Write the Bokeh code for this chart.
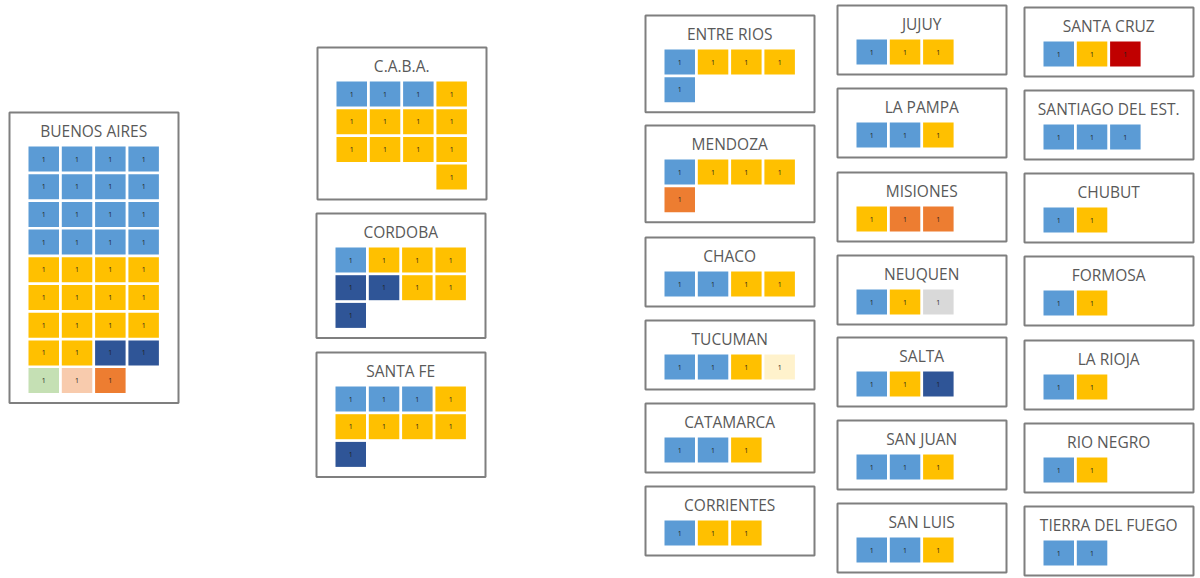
from bokeh.plotting import figure
from bokeh.models import ColumnDataSource, Range1d
from bokeh.embed import file_html
from bokeh.resources import INLINE
from bokeh.core.properties import value

# ---------------- DATA ----------------
provinces = ["BUENOS AIRES", "C.A.B.A.", "CORDOBA", "SANTA FE",
             "ENTRE RIOS", "MENDOZA", "CHACO", "TUCUMAN", "CATAMARCA", "CORRIENTES",
             "JUJUY", "LA PAMPA", "MISIONES", "NEUQUEN", "SALTA", "SAN JUAN", "SAN LUIS",
             "SANTA CRUZ", "SANTIAGO DEL EST.", "CHUBUT", "FORMOSA", "LA RIOJA",
             "RIO NEGRO", "TIERRA DEL FUEGO"]

# party code -> colour
party_codes = ["P1", "P2", "P3", "P4", "P5", "P6", "P7", "P8", "P9"]
party_colors = ["#5B9BD5", "#FFC000", "#2F5597", "#ED7D31", "#C5E0B4",
                "#F8CBAD", "#FFF2CC", "#D9D9D9", "#C00000"]

# seats per province, in cell order (rows of 4, "" = empty slot); each seat = 1
seats_buenos_aires = ["P1", "P1", "P1", "P1", "P1", "P1", "P1", "P1",
                      "P1", "P1", "P1", "P1", "P1", "P1", "P1", "P1",
                      "P2", "P2", "P2", "P2", "P2", "P2", "P2", "P2",
                      "P2", "P2", "P2", "P2", "P2", "P2", "P3", "P3",
                      "P5", "P6", "P4"]
seats_caba = ["P1", "P1", "P1", "P2", "P2", "P2", "P2", "P2",
              "P2", "P2", "P2", "P2", "", "", "", "P2"]
seats_cordoba = ["P1", "P2", "P2", "P2", "P3", "P3", "P2", "P2", "P3"]
seats_santa_fe = ["P1", "P1", "P1", "P2", "P2", "P2", "P2", "P2", "P3"]
seats_entre_rios = ["P1", "P2", "P2", "P2", "P1"]
seats_mendoza = ["P1", "P2", "P2", "P2", "P4"]
seats_chaco = ["P1", "P1", "P2", "P2"]
seats_tucuman = ["P1", "P1", "P2", "P7"]
seats_catamarca = ["P1", "P1", "P2"]
seats_corrientes = ["P1", "P2", "P2"]
seats_jujuy = ["P1", "P2", "P2"]
seats_la_pampa = ["P1", "P1", "P2"]
seats_misiones = ["P2", "P4", "P4"]
seats_neuquen = ["P1", "P2", "P8"]
seats_salta = ["P1", "P2", "P3"]
seats_san_juan = ["P1", "P1", "P2"]
seats_san_luis = ["P1", "P1", "P2"]
seats_santa_cruz = ["P1", "P2", "P9"]
seats_santiago = ["P1", "P1", "P1"]
seats_chubut = ["P1", "P2"]
seats_formosa = ["P1", "P2"]
seats_la_rioja = ["P1", "P2"]
seats_rio_negro = ["P1", "P2"]
seats_tierra_del_fuego = ["P1", "P1"]

seat_lists = [seats_buenos_aires, seats_caba, seats_cordoba, seats_santa_fe,
              seats_entre_rios, seats_mendoza, seats_chaco, seats_tucuman,
              seats_catamarca, seats_corrientes, seats_jujuy, seats_la_pampa,
              seats_misiones, seats_neuquen, seats_salta, seats_san_juan,
              seats_san_luis, seats_santa_cruz, seats_santiago, seats_chubut,
              seats_formosa, seats_la_rioja, seats_rio_negro, seats_tierra_del_fuego]

# ---------------- LAYOUT (panel positions, page units) ----------------
box_left = [9, 317, 316, 316,
            645, 645, 645, 645, 645, 645,
            837, 837, 837, 837, 837, 837, 837,
            1024, 1024, 1024, 1024, 1024, 1024, 1024]
box_top = [112, 47, 213, 352,
           15, 125, 237, 320, 403, 486,
           5, 88, 172, 255, 337, 420, 503,
           7, 90, 173, 256, 340, 423, 506]
BOX_W = 169
CELL_DX = 19
CELL_DY = 34
PITCH_X = 33.3
PITCH_Y = 27.7
CELL_W = 30.5
CELL_H = 25.0
NCOL = 4

color_of = dict(zip(party_codes, party_colors))

bx0, bx1, by0, by1, tx, ty, names = [], [], [], [], [], [], []
cl, cr, ct, cb, cc, lx, ly, lt = [], [], [], [], [], [], [], []
for name, seats, L, T in zip(provinces, seat_lists, box_left, box_top):
    nrows = (len(seats) + NCOL - 1) // NCOL
    H = CELL_DY + (nrows - 1) * PITCH_Y + CELL_H + 10
    bx0.append(L); bx1.append(L + BOX_W); by0.append(T); by1.append(T + H)
    tx.append(L + CELL_DX + (NCOL * PITCH_X - (PITCH_X - CELL_W)) / 2)
    ty.append(T + 18)
    names.append(name)
    for i, s in enumerate(seats):
        if not s:
            continue
        r, c = divmod(i, NCOL)
        x0 = L + CELL_DX + c * PITCH_X
        y0 = T + CELL_DY + r * PITCH_Y
        cl.append(x0); cr.append(x0 + CELL_W)
        ct.append(y0); cb.append(y0 + CELL_H)
        cc.append(color_of[s])
        lx.append(x0 + CELL_W / 2); ly.append(y0 + CELL_H / 2); lt.append("1")

p = figure(width=1200, height=578, output_backend="svg", toolbar_location=None,
           x_range=Range1d(0, 1200), y_range=Range1d(578, 0),
           min_border=0)
p.axis.visible = False
p.xgrid.visible = False
p.ygrid.visible = False
p.outline_line_color = None
p.background_fill_color = "white"

boxes = ColumnDataSource(dict(left=bx0, right=bx1, top=by0, bottom=by1))
p.quad(left="left", right="right", top="top", bottom="bottom", source=boxes,
       fill_color="white", line_color="#7F7F7F", line_width=2)

titles = ColumnDataSource(dict(x=tx, y=ty, text=names))
p.text(x="x", y="y", text="text", source=titles, text_align="center",
       text_baseline="middle", text_font=value("Open Sans"),
       text_font_size="15.5px", text_color="#595959")

cells = ColumnDataSource(dict(left=cl, right=cr, top=ct, bottom=cb, color=cc))
p.quad(left="left", right="right", top="top", bottom="bottom", source=cells,
       fill_color="color", line_color=None)

labels = ColumnDataSource(dict(x=lx, y=ly, text=lt))
p.text(x="x", y="y", text="text", source=labels, text_align="center",
       text_baseline="middle", text_font=value("Open Sans"),
       text_font_size="7px", text_color="#1F1F1F")

open("out.html", "w").write(file_html(p, INLINE))
